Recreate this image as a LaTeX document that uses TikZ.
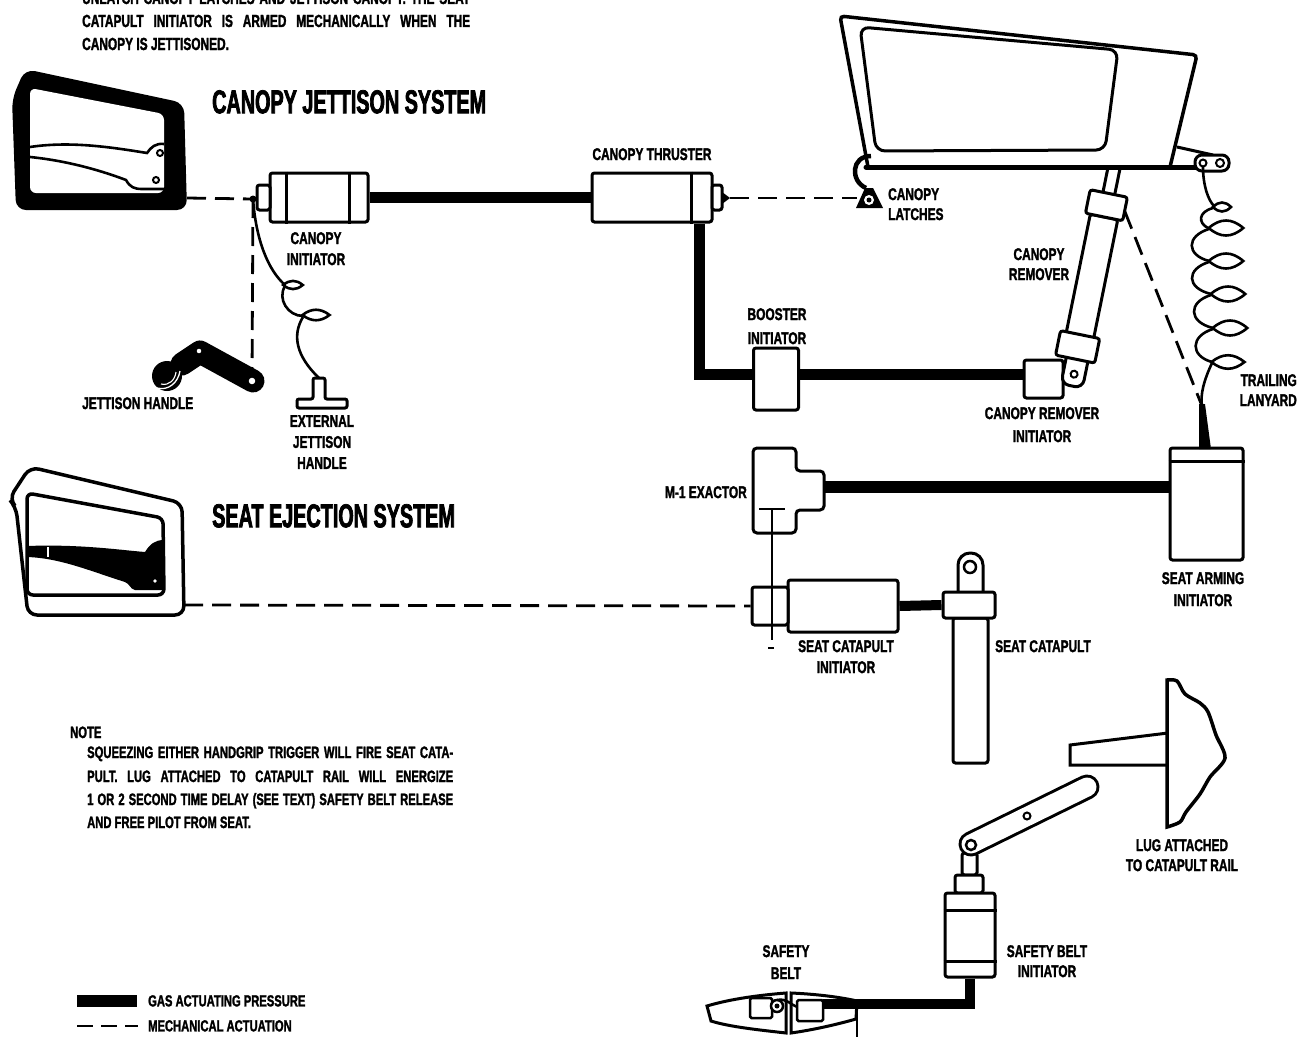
\documentclass[tikz,border=0pt]{standalone}
\usepackage{fontspec}
\newfontfamily\lblfont{Liberation Sans}[FakeStretch=0.70, FakeBold=1.6]
\newfontfamily\parfont{Liberation Sans}[FakeStretch=0.68, FakeBold=1.6]
\newfontfamily\ttlfont{Liberation Sans}[FakeStretch=0.60, FakeBold=2.2]
\begin{document}
\begin{tikzpicture}[x=1pt,y=-1pt,
  gas/.style={line width=11pt},
  mech/.style={line width=2.8pt, dash pattern=on 19pt off 9pt},
  part/.style={draw, line width=3pt, fill=white, rounded corners=2.5pt, inner sep=0pt},
  wire/.style={line width=2.6pt},
  lbl/.style={font=\lblfont\bfseries\fontsize{17}{21}\selectfont, inner sep=0pt},
  ttl/.style={font=\ttlfont\bfseries\fontsize{33}{33}\selectfont, inner sep=0pt, anchor=north west},
  para/.style={font=\parfont\bfseries\fontsize{17.5}{17.5}\selectfont, inner sep=0pt, anchor=base west},
  notetext/.style={font=\parfont\bfseries\fontsize{16.5}{16.5}\selectfont, inner sep=0pt, anchor=base west},
  lens/.pic={\draw[wire] (-15,0) .. controls (-5,-10) and (5,-10) .. (15,0) .. controls (5,10) and (-5,10) .. (-15,0) -- cycle;}
]
\fill[white] (0,0) rectangle (1298,1044);
\useasboundingbox (0,0) rectangle (1298,1044);
\clip (0,0) rectangle (1298,1044);

% ---------------- explanatory text at the top ----------------
\node[para] (t1) at (82,4) {\makebox[388pt][s]{UNLATCH CANOPY LATCHES AND JETTISON CANOPY. THE SEAT}};
\node[para] (t2) at (82,27) {\makebox[388pt][s]{CATAPULT INITIATOR IS ARMED MECHANICALLY WHEN THE}};
\node[para] (t3) at (82,50) {CANOPY IS JETTISONED.};

\node[ttl] (title1) at (212,90) {CANOPY JETTISON SYSTEM};
\node[ttl] (title2) at (212,504) {SEAT EJECTION SYSTEM};

% ---------------- canopy jettison handgrip (solid black) ----------------
\fill[rounded corners=10pt] (12,99) -- (25,69) -- (184,103) -- (187,210) -- (16,210) -- cycle;
\fill[white, rounded corners=6pt] (30,88) -- (164,114) -- (164,193) -- (30,193) -- cycle;
\draw[wire] (30,147) .. controls (70,141) and (110,147) .. (147,153) .. controls (151,147) and (156,143) .. (164,144);
\draw[wire] (30,157) .. controls (70,161) and (105,172) .. (126,180) .. controls (130,187) and (134,189) .. (142,189) -- (164,189);
\draw[line width=2pt] (160,153) circle[radius=3];
\draw[line width=2pt] (156,180) circle[radius=3];
\fill[white] (63,75) circle[radius=1.8];
\coordinate (th) at (187,198);

% ---------------- canopy initiator ----------------
\node[part, minimum width=98pt, minimum height=49pt] (ci) at (319,197.5) {};
\draw[line width=2.5pt] ([xshift=18pt]ci.north west) -- ([xshift=18pt]ci.south west);
\draw[line width=2.5pt] ([xshift=-20pt]ci.north east) -- ([xshift=-20pt]ci.south east);
\node[part, minimum width=13pt, minimum height=25pt] (cicap) at (263.5,197.5) {};
\coordinate (knot) at (253,199);
\fill (knot) circle[radius=3.5];

% ---------------- canopy thruster ----------------
\node[part, minimum width=120pt, minimum height=49pt] (ct) at (652,197.5) {};
\draw[line width=2.5pt] ([xshift=-22pt]ct.north east) -- ([xshift=-22pt]ct.south east);
\node[part, minimum width=10pt, minimum height=25pt] (ctcap) at (717,197.5) {};
\fill (722,192) -- (730,198) -- (722,204) -- cycle;
\coordinate (ctt) at (730,198);

% gas lines of the canopy system
\draw[gas] (ci.east) -- (ct.west);
\coordinate (g1) at (699,374);
\node[part, minimum width=45pt, minimum height=62pt] (bi) at (776,379) {};
\node[part, minimum width=39pt, minimum height=38pt] (cri) at (1043.5,379) {};
\draw[gas] (ct.south -| g1) -- (g1) -- (g1 -| bi.west);
\draw[gas] (bi.east |- g1) -- (cri.west |- g1);

% ---------------- mechanical links of the canopy system ----------------
\coordinate (jh) at (252,380);
\draw[mech] (th) -- (knot);
\draw[mech] (knot) -- (jh);
\coordinate (lt) at (857,198);
\draw[mech] (ctt) -- (lt);

% ---------------- jettison handle ----------------
\draw[line width=23pt, line cap=round, line join=round] (182,364) -- (200,352) -- (253,381);
\fill (167,376) circle[radius=15];
\draw[white, line width=1.3pt] (157,388) .. controls (168,391) and (178,383) .. (180,371);
\draw[white, line width=1.1pt] (161,384) .. controls (169,386) and (175,380) .. (176,372);
\draw[line width=2pt, fill=white] (199,351) circle[radius=3.5];
\draw[line width=2pt, fill=white] (252,381) circle[radius=4.5];

% ---------------- external jettison handle and its lanyard ----------------
\draw[wire] (knot) .. controls (256,240) and (268,270) .. (285,285);
\pic[xscale=0.65, yscale=0.55] at (293,285) {lens};
\draw[wire] (285,286) .. controls (277,299) and (288,316) .. (303,316);
\pic[xscale=0.9, yscale=0.7] at (316,315) {lens};
\coordinate (ext) at (319,378);
\draw[wire] (303,317) .. controls (292,335) and (296,356) .. (ext);
\draw[line width=3pt, fill=white, rounded corners=2pt] (313,378) -- (325,378) -- (325,399) -- (347,399) -- (347,408) -- (297,408) -- (297,399) -- (313,399) -- cycle;

% ---------------- canopy remover (tilted cylinder) ----------------
\begin{scope}[shift={(1114,168)}, rotate=-11.5]
  \draw[part] (-6,-4) rectangle (6,27);
  \draw[part] (-14,50) rectangle (14,172);
  \draw[part] (-19,26) rectangle (19,50);
  \draw[part, rounded corners=8pt] (-9,185) -- (-9,222) -- (13,222) -- (13,185) -- cycle;
  \draw[part] (-20,170) rectangle (20,195);
  \draw[line width=2pt, fill=white] (2,210) circle[radius=3.5];
  \coordinate (rs) at (19,40);
\end{scope}

% ---------------- canopy ----------------
\draw[line width=3.5pt, rounded corners=4pt, fill=white] (868,167) -- (840,16) -- (1197,55) -- (1170,167);
\draw[line width=3pt, rounded corners=9pt] (860,27) -- (1118,50) -- (1105,150) -- (876,151) -- cycle;
\draw[line width=3pt] (1177,147) -- (1213,155);
\draw[line width=5pt, line cap=round] (866,167) -- (1226,167);
\draw[line width=3pt, fill=white, rounded corners=7pt] (1195,155) -- (1229,155) -- (1229,171) -- (1195,171) -- cycle;
\draw[line width=2pt] (1203,163) circle[radius=3.5];
\draw[line width=2pt] (1220,163) circle[radius=4];

% canopy latch
\draw[line width=4.5pt] (871,156) .. controls (851,156) and (850,181) .. (866,188);
\fill (856,208) -- (883,208) -- (873,188) -- (865,188) -- cycle;
\fill[white] (869,200) circle[radius=5];
\fill (869,200) circle[radius=2.5];

% ---------------- trailing lanyard ----------------
\draw[wire] (1203,167) .. controls (1203,185) and (1208,200) .. (1214,206);
\pic[xscale=0.6, yscale=0.6] at (1222,207) {lens};
\draw[wire] (1213,208) .. controls (1198,212) and (1198,223) .. (1208,228);
\pic[xscale=1.15, yscale=1.0] at (1226,228) {lens};
\draw[wire] (1209,229) .. controls (1186,236) and (1186,255) .. (1209,261);
\pic[xscale=1.15, yscale=1.0] at (1226,261) {lens};
\draw[wire] (1209,262) .. controls (1186,269) and (1186,288) .. (1211,294);
\pic[xscale=1.15, yscale=1.0] at (1228,294) {lens};
\draw[wire] (1211,295) .. controls (1188,302) and (1188,322) .. (1213,328);
\pic[xscale=1.15, yscale=1.0] at (1230,328) {lens};
\draw[wire] (1213,329) .. controls (1190,336) and (1190,356) .. (1212,362);
\pic[xscale=1.1, yscale=0.9] at (1228,362) {lens};
\coordinate (sas) at (1202,406);
\draw[wire] (1212,363) .. controls (1204,380) and (1200,395) .. (sas);
\draw[mech] (rs) -- (sas);

% ---------------- seat arming initiator and M-1 exactor ----------------
\node[part, minimum width=73pt, minimum height=112pt] (sai) at (1206.5,504) {};
\draw[line width=3pt] ([yshift=-15pt]sai.north west) -- ([yshift=-15pt]sai.north east);
\fill (1199,404) -- (1205,404) -- (1211,449) -- (1199,449) -- cycle;

\draw[line width=3pt, fill=white, rounded corners=4pt] (753,448) -- (796,448) -- (796,471) -- (824,471) -- (824,510) -- (796,510) -- (796,533) -- (753,533) -- cycle;
\coordinate (exr) at (824,487);
\draw[gas, line width=12pt] (exr) -- (exr -| sai.west);

% ---------------- seat catapult initiator and seat catapult ----------------
\node[part, minimum width=110pt, minimum height=52pt] (sci) at (843,606) {};
\node[part, minimum width=36pt, minimum height=38pt] (scap) at (770,606) {};
\coordinate (ex1) at (772,509);
\coordinate (ex2) at (772,640);
\draw[line width=2.6pt] (ex1) -- (ex2);
\draw[line width=2.6pt] (759,509) -- (785,509);
\draw[line width=1.5pt] (768,648) -- (774,648);

\draw[part, rounded corners=12pt] (958,594) -- (958,553) -- (983,553) -- (983,594);
\draw[line width=2.5pt, fill=white] (970,567) circle[radius=6];
\node[part, minimum width=35pt, minimum height=145pt] (scyl) at (970.5,690.5) {};
\node[part, minimum width=52pt, minimum height=26pt] (sc) at (969,605) {};
\draw[gas, line width=10pt] (sci.east) -- (sc.west);

% seat ejection handgrip (outlined)
\draw[line width=3.5pt, fill=white, rounded corners=9pt] (9,499) -- (30,467) -- (182,503) -- (184,615) -- (28,615) -- (16,507) -- cycle;
\draw[line width=3.5pt, rounded corners=6pt] (27,493) -- (163,518) -- (164,595) -- (27,595) -- cycle;
\fill (27,546) .. controls (80,544) and (120,550) .. (145,552) .. controls (150,544) and (155,540) .. (164,540) -- (164,590) -- (135,590) .. controls (130,589) and (130,584) .. (125,582) .. controls (90,571) and (60,558) .. (27,557) -- cycle;
\draw[white, line width=1.3pt] (48,547) -- (48,557);
\fill[white] (155,581) circle[radius=1.8];
\coordinate (sh) at (184,605);
\draw[mech] (sh) -- (scap.west);

% ---------------- lug on the catapult rail ----------------
\draw[line width=3pt, fill=white] (1070,745) -- (1168,733) -- (1168,765) -- (1070,765) -- cycle;
\draw[line width=3.5pt, fill=white] plot[smooth] coordinates {(1167,680) (1177,681) (1185,694) (1200,703) (1208,712) (1216,735) (1225,758) (1210,777) (1200,794) (1186,812) (1180,822) (1167,827)} -- cycle;

% ---------------- safety belt initiator ----------------
\node[part, minimum width=15pt, minimum height=22pt] (sstem) at (969.5,864) {};
\node[part, minimum width=28pt, minimum height=18pt] (scap2) at (969,884) {};
\node[part, minimum width=50pt, minimum height=84pt] (sbi) at (970,935) {};
\draw[line width=3pt] ([yshift=-19pt]sbi.north west) -- ([yshift=-19pt]sbi.north east);
\draw[line width=3pt] ([yshift=17pt]sbi.south west) -- ([yshift=17pt]sbi.south east);
\draw[line width=25pt, line cap=round] (971,844) -- (1087,787);
\draw[white, line width=19pt, line cap=round] (971,844) -- (1087,787);
\draw[line width=2pt] (1027,816) circle[radius=3.5];
\draw[line width=2.5pt] (971,845) circle[radius=5];

% ---------------- safety belt buckle ----------------
\draw[line width=3pt, fill=white] (707,1006) .. controls (730,999) and (760,995) .. (786,993) -- (786,1033) .. controls (760,1030) and (730,1027) .. (711,1021) -- cycle;
\draw[line width=3pt, fill=white] (791,993) .. controls (815,994) and (840,997) .. (857,1001) -- (856,1019) .. controls (835,1025) and (812,1030) .. (791,1033) -- cycle;
\draw[line width=2.5pt] (857,1015) -- (857,1037);
\draw[line width=2.5pt, fill=white, rounded corners=1.5pt] (750,998) rectangle (772,1018);
\draw[line width=2.5pt, fill=white, rounded corners=1.5pt] (797,1000) rectangle (823,1021);
\draw[line width=2.5pt, fill=white] (777,1006) circle[radius=6];
\fill (777,1006) circle[radius=2.5];
\draw[line width=2.5pt] (777,1000) .. controls (786,998) and (790,1004) .. (797,1007);
\coordinate (sb) at (823,1004);
\draw[gas, line width=10pt] (sbi.south) -- (sbi.south |- sb) -- (sb);

% ---------------- labels ----------------
\node[lbl, anchor=north] (l-ct) at (652,148) {CANOPY THRUSTER};
\node[lbl, anchor=north, align=center] (l-ci) at (316,232) {CANOPY\\INITIATOR};
\node[lbl, anchor=north west] (l-jh) at (82,397) {JETTISON HANDLE};
\node[lbl, anchor=north, align=center] (l-ext) at (322,415) {EXTERNAL\\JETTISON\\HANDLE};
\node[lbl, anchor=north west, align=left] (l-lt) at (888,188) {CANOPY\\[-1pt]LATCHES};
\node[lbl, anchor=north, align=center] (l-cr) at (1039,248) {CANOPY\\[-1pt]REMOVER};
\node[lbl, anchor=north, align=center] (l-bi) at (777,308) {BOOSTER\\[3pt]INITIATOR};
\node[lbl, anchor=north, align=center] (l-cri) at (1042,407) {CANOPY REMOVER\\[2pt]INITIATOR};
\node[lbl, anchor=north east, align=right] (l-tl) at (1297,374) {TRAILING\\[-1pt]LANYARD};
\node[lbl, anchor=north east] (l-ex) at (747,486) {M-1 EXACTOR};
\node[lbl, anchor=north, align=center] (l-sai) at (1203,572) {SEAT ARMING\\[1pt]INITIATOR};
\node[lbl, anchor=north, align=center] (l-sci) at (846,640) {SEAT CATAPULT\\INITIATOR};
\node[lbl, anchor=north west] (l-sc) at (995,640) {SEAT CATAPULT};
\node[lbl, anchor=north, align=center] (l-lug) at (1182,839) {LUG ATTACHED\\[-1pt]TO CATAPULT RAIL};
\node[lbl, anchor=north, align=center] (l-sb) at (786,945) {SAFETY\\[1pt]BELT};
\node[lbl, anchor=north, align=center] (l-sbi) at (1047,945) {SAFETY BELT\\[-1pt]INITIATOR};

% ---------------- note ----------------
\node[notetext] (n0) at (70,738) {NOTE};
\node[notetext] (n1) at (87,758) {\makebox[366pt][s]{SQUEEZING EITHER HANDGRIP TRIGGER WILL FIRE SEAT CATA-}};
\node[notetext] (n2) at (87,782) {\makebox[366pt][s]{PULT. LUG ATTACHED TO CATAPULT RAIL WILL ENERGIZE}};
\node[notetext] (n3) at (87,805) {\makebox[366pt][s]{1 OR 2 SECOND TIME DELAY (SEE TEXT) SAFETY BELT RELEASE}};
\node[notetext] (n4) at (87,828) {AND FREE PILOT FROM SEAT.};

% ---------------- legend ----------------
\coordinate (lg1) at (77,1001);
\coordinate (lg2) at (137,1001);
\draw[gas, line width=12pt] (lg1) -- (lg2);
\coordinate (lm1) at (77,1026);
\coordinate (lm2) at (138,1026);
\draw[line width=2.6pt, dash pattern=on 16pt off 8pt] (lm1) -- (lm2);
\node[lbl, anchor=north west, font=\lblfont\bfseries\fontsize{16}{16}\selectfont] (lg-gas) at (148,995) {GAS ACTUATING PRESSURE};
\node[lbl, anchor=north west, font=\lblfont\bfseries\fontsize{16}{16}\selectfont] (lg-mech) at (148,1020) {MECHANICAL ACTUATION};
\end{tikzpicture}
\end{document}
